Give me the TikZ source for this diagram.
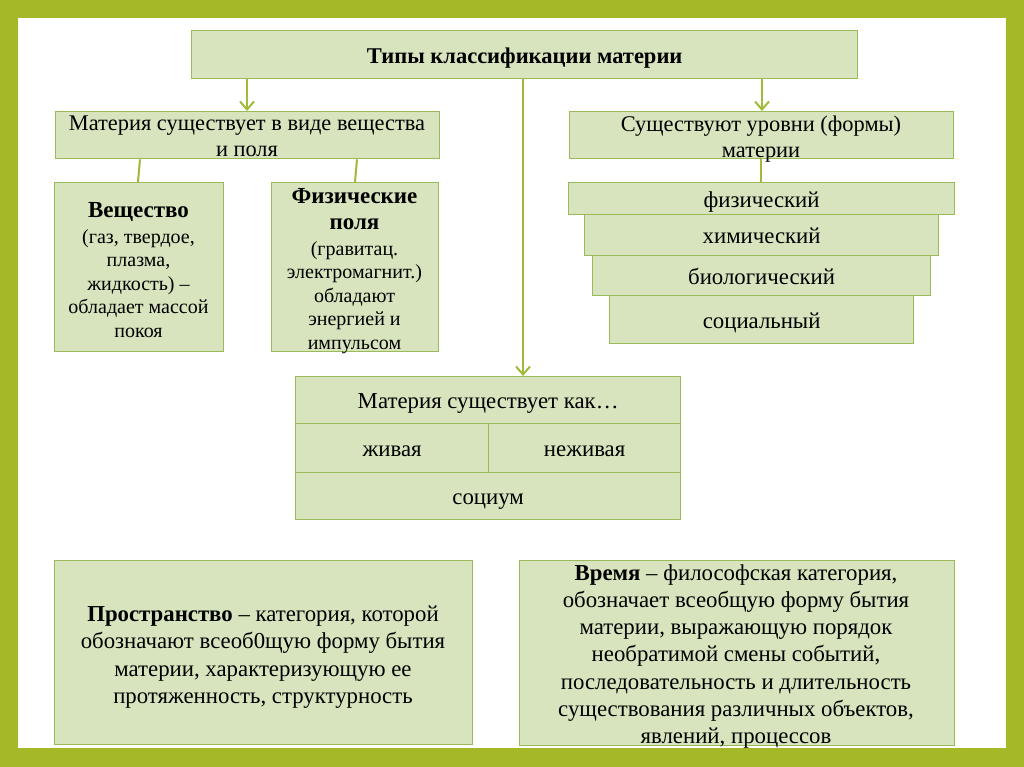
\documentclass[tikz,border=0pt]{standalone}
\usepackage{fontspec}
\setmainfont{Liberation Serif}
\usetikzlibrary{arrows.meta}
\definecolor{frame}{RGB}{165,185,40}
\definecolor{boxfill}{RGB}{215,228,189}
\definecolor{boxline}{RGB}{155,187,89}
\definecolor{conn}{RGB}{160,186,58}
\tikzset{
  box/.style={draw=boxline, line width=1.3pt, fill=boxfill, inner sep=0pt, anchor=north west, align=center, text=black},
  single/.style={text height=19.5pt, text depth=2.5pt},
  txt/.style={inner sep=0pt, align=center, text=black},
  mtext/.style={font=\fontsize{22.8}{26}\selectfont},
  htext/.style={font=\fontsize{22.4}{26}\selectfont},
  ltext/.style={font=\fontsize{22.8}{27.3}\selectfont},
  stext/.style={font=\fontsize{20}{23.5}\selectfont},
  conline/.style={draw=conn, line width=2pt},
  arr/.style={conline, -{Straight Barb[length=8pt,width=14pt,line width=2pt]}},
}
\newcommand{\bighead}[1]{\textbf{\fontsize{23}{24.3}\selectfont #1}}
\begin{document}
\begin{tikzpicture}[x=1pt,y=-1pt]
\fill[frame] (0,0) rectangle (1024,767);
\fill[white] (18,18) rectangle (1006,748);
\useasboundingbox (0,0) rectangle (1024,767);

% title
\node[box, single, minimum width=666pt, minimum height=48pt, font=\bfseries\fontsize{22.5}{24}\selectfont] (title) at (191,30) {Типы классификации материи};

% level 1
\node[box, minimum width=384pt, minimum height=47pt] (l1) at (55,111) {};
\node[txt, htext] (l1t) at (247,136.5) {Материя существует в виде вещества\\и поля};
\node[box, minimum width=384pt, minimum height=47pt] (r1) at (569,111) {};
\node[txt, htext] (r1t) at (761,139.5) {Существуют уровни (формы)\\материи};

% substance / fields
\node[box, minimum width=169pt, minimum height=169pt] (ves) at (54,182) {};
\node[txt, stext] (vest) at (138.5,270) {\bighead{Вещество}\\[2.5pt](газ, твердое,\\плазма,\\жидкость) --\\обладает массой\\покоя};
\node[box, minimum width=167pt, minimum height=169pt] (pol) at (271,182) {};
\node[txt, stext] (polt) at (354.5,271) {\bighead{Физические}\\[2.5pt]\bighead{поля}\\[2.5pt](гравитац.\\электромагнит.)\\обладают\\энергией и\\импульсом};

% levels
\node[box, mtext, single, minimum width=386pt, minimum height=32pt] (fiz) at (568,182) {физический};
\node[box, mtext, single, minimum width=354pt, minimum height=41pt] (him) at (584,214) {химический};
\node[box, mtext, single, minimum width=338pt, minimum height=40pt] (bio) at (592,255) {биологический};
\node[box, mtext, single, minimum width=304pt, minimum height=48pt] (soc) at (609,295) {социальный};

% matter exists as
\node[box, mtext, single, minimum width=385pt, minimum height=47pt] (mat) at (295,376) {Материя существует как…};
\node[box, mtext, single, minimum width=193pt, minimum height=49pt] (liv) at (295,423) {живая};
\node[box, mtext, single, minimum width=192pt, minimum height=49pt] (nliv) at (488,423) {неживая};
\node[box, mtext, single, minimum width=385pt, minimum height=47pt] (socium) at (295,472) {социум};

% bottom boxes
\node[box, minimum width=418pt, minimum height=184pt] (prost) at (54,560) {};
\node[txt, ltext] (prostt) at (263,657) {\textbf{Пространство} -- категория, которой\\обозначают всеоб0щую форму бытия\\материи, характеризующую ее\\протяженность, структурность};
\node[box, minimum width=435pt, minimum height=185pt] (vrem) at (519,560) {};
\node[txt, ltext, anchor=north] (vremt) at (736,564) {\textbf{Время} -- философская категория,\\обозначает всеобщую форму бытия\\материи, выражающую порядок\\необратимой смены событий,\\последовательность и длительность\\существования различных объектов,\\явлений, процессов};

% connectors
\coordinate (xa) at (247,0);
\coordinate (xb) at (762,0);
\coordinate (xc) at (523,0);
\coordinate (xd) at (140,0);
\coordinate (xe) at (138,0);
\coordinate (xf) at (357,0);
\coordinate (xg) at (355,0);
\coordinate (xh) at (761,0);
\draw[arr] (title.south -| xa) -- (l1.north -| xa);
\draw[arr] (title.south -| xb) -- (r1.north -| xb);
\draw[arr] (title.south -| xc) -- (mat.north -| xc);
\draw[conline] (l1.south -| xd) -- (ves.north -| xe);
\draw[conline] (l1.south -| xf) -- (pol.north -| xg);
\draw[conline] (r1.south -| xh) -- (fiz.north -| xh);
\end{tikzpicture}
\end{document}
